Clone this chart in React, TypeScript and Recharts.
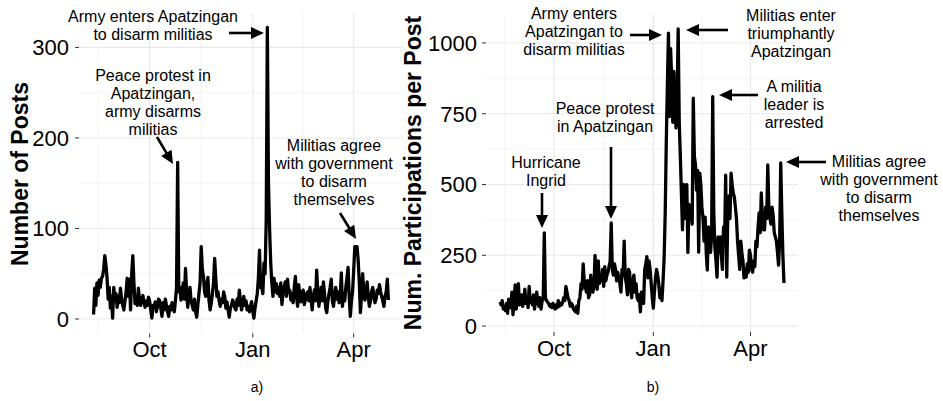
import React from 'react';
import { LineChart, Line, XAxis, YAxis, CartesianGrid } from 'recharts';

const FONT = '"Liberation Sans", Arial, Helvetica, sans-serif';

// day 0 = 12 Aug 2013, one value per day up to early May 2014
const monthTicks = [50, 142, 232];
const monthLabels = ['Oct', 'Jan', 'Apr'];
const minorDays = [4, 96, 187];

const postsPerDay = [
  5, 34, 15, 40, 26, 43, 35, 45, 47, 55,
  70, 60, 46, 22, 35, 12, 25, 1, 35, 20,
  28, 13, 25, 18, 34, 22, 15, 10, 20, 30,
  45, 25, 44, 10, 50, 70, 40, 17, 25, 15,
  34, 20, 15, 22, 26, 18, 13, 20, 15, 24,
  20, 10, 1, 15, 12, 19, 8, 14, 22, 20,
  12, 3, 18, 10, 22, 15, 8, 3, 14, 10,
  18, 12, 8, 20, 35, 173, 30, 35, 21, 28,
  40, 22, 56, 30, 13, 25, 35, 20, 15, 10,
  22, 8, 2, 15, 28, 40, 80, 55, 47, 30,
  25, 38, 46, 20, 10, 18, 28, 40, 67, 45,
  25, 30, 20, 14, 22, 18, 30, 25, 12, 19,
  10, 2, 12, 15, 21, 18, 12, 10, 22, 15,
  32, 20, 10, 18, 25, 15, 20, 10, 14, 8,
  15, 19, 8, 1, 12, 20, 28, 45, 76, 35,
  35, 28, 62, 50, 110, 322, 150, 100, 62, 40,
  25, 45, 30, 39, 28, 35, 25, 40, 16, 30,
  35, 41, 25, 44, 30, 32, 21, 28, 18, 35,
  47, 25, 14, 38, 25, 19, 30, 32, 16, 22,
  28, 30, 20, 35, 22, 10, 25, 32, 20, 54,
  30, 14, 25, 35, 20, 41, 28, 12, 7, 20,
  28, 35, 44, 20, 14, 25, 35, 22, 30, 18,
  25, 51, 14, 28, 20, 35, 45, 57, 25, 3,
  20, 30, 53, 80, 80, 80, 65, 41, 7, 25,
  50, 30, 21, 28, 41, 25, 14, 20, 30, 35,
  25, 18, 22, 32, 28, 38, 30, 25, 20, 14,
  25, 30, 44, 21,
];

const participationsPerPost = [
  85, 75, 90, 60, 70, 55, 80, 45, 95, 70,
  65, 120, 40, 90, 145, 60, 100, 150, 75, 85,
  110, 70, 90, 130, 80, 100, 65, 140, 85, 90,
  75, 110, 60, 95, 120, 85, 70, 100, 60, 90,
  95, 329, 100, 90, 85, 80, 70, 75, 65, 80,
  70, 60, 75, 65, 90, 70, 80, 75, 85, 100,
  90, 140, 120, 100, 90, 70, 80, 75, 60, 55,
  50, 70, 45, 90, 100, 150, 130, 220, 160, 140,
  120, 160, 100, 110, 180, 130, 120, 140, 250, 160,
  130, 230, 150, 180, 160, 200, 140, 210, 160, 180,
  190, 210, 230, 364, 200, 180, 220, 200, 160, 190,
  170, 150, 120, 200, 180, 300, 170, 150, 110, 200,
  190, 130, 100, 160, 180, 120, 150, 100, 90, 110,
  50, 120, 100, 80, 200, 220, 245, 170, 230, 200,
  150, 100, 63, 120, 170, 200, 180, 150, 100, 130,
  90, 160, 240, 400, 650, 850, 1035, 740, 980, 870,
  720, 900, 760, 700, 800, 1050, 720, 600, 470, 340,
  500, 380, 450, 500, 260, 430, 380, 420, 360, 805,
  600, 570, 480, 550, 261, 540, 500, 420, 380, 300,
  385, 260, 198, 350, 300, 260, 320, 810, 400, 280,
  233, 173, 315, 260, 315, 250, 200, 350, 300, 533,
  173, 400, 460, 380, 540, 500, 470, 456, 420, 380,
  300, 250, 200, 300, 260, 230, 170, 200, 173, 220,
  190, 268, 250, 200, 190, 230, 210, 300, 280, 350,
  400, 330, 470, 380, 340, 340, 420, 380, 569, 420,
  380, 360, 420, 390, 330, 315, 300, 260, 215, 300,
  576, 400, 250, 152,
];

const postsTicks = [0, 100, 200, 300];
const postsMinor = [50, 150, 250];
const partTicks = [0, 250, 500, 750, 1000];
const partMinor = [125, 375, 625, 875];

const postsData = postsPerDay.map((value, day) => ({ day, value }));
const partData = participationsPerPost.map((value, day) => ({ day, value }));

const tickStyle = { fill: '#000', fontSize: 22, fontFamily: FONT };
const monthFormatter = (v: number) => monthLabels[monthTicks.indexOf(v)] ?? '';

// annotation text blocks: centre x, first baseline, line step
const notes = [
  { x: 153, y: 22, lines: ['Army enters Apatzingan', 'to disarm militias'] },
  { x: 153, y: 81, lines: ['Peace protest in', 'Apatzingan,', 'army disarms', 'militias'] },
  { x: 334, y: 151, lines: ['Militias agree', 'with government', 'to disarm', 'themselves'] },
  { x: 574, y: 19, lines: ['Army enters', 'Apatzingan to', 'disarm militias'] },
  { x: 791, y: 21, lines: ['Militias enter', 'triumphantly', 'Apatzingan'] },
  { x: 794, y: 92, lines: ['A militia', 'leader is', 'arrested'] },
  { x: 546, y: 168, lines: ['Hurricane', 'Ingrid'] },
  { x: 605, y: 114, lines: ['Peace protest', 'in Apatzingan'] },
  { x: 879, y: 167, lines: ['Militias agree', 'with government', 'to disarm', 'themselves'] },
];

// arrows: tail -> tip
const arrows = [
  [229, 33, 264, 33],
  [157, 137, 173, 164],
  [340, 213, 356, 239],
  [630, 35, 662, 35],
  [728, 30, 686, 30],
  [758, 95, 719, 95],
  [542, 193, 542, 228],
  [611, 147, 611, 219],
  [826, 162, 786, 162],
];

function Arrow({ a }: { a: number[] }) {
  const [x1, y1, x2, y2] = a;
  const len = Math.hypot(x2 - x1, y2 - y1);
  const ux = (x2 - x1) / len;
  const uy = (y2 - y1) / len;
  const head = 13;
  const half = 6;
  const bx = x2 - ux * head;
  const by = y2 - uy * head;
  const pts = `${x2},${y2} ${bx - uy * half},${by + ux * half} ${bx + uy * half},${by - ux * half}`;
  return (
    <g>
      <line x1={x1} y1={y1} x2={bx + ux} y2={by + uy} stroke="#000" strokeWidth={2.6} />
      <polygon points={pts} fill="#000" />
    </g>
  );
}

function Overlay() {
  return (
    <svg width={943} height={401} style={{ position: 'absolute', left: 0, top: 0, pointerEvents: 'none' }}>
      <text
        transform="translate(28,174) rotate(-90)"
        textAnchor="middle"
        fontFamily={FONT}
        fontWeight="bold"
        fontSize={23}
        fill="#000"
      >
        Number of Posts
      </text>
      <text
        transform="translate(421,173) rotate(-90)"
        textAnchor="middle"
        fontFamily={FONT}
        fontWeight="bold"
        fontSize={23}
        fill="#000"
      >
        Num. Participations per Post
      </text>
      {notes.map((n, i) => (
        <text key={i} textAnchor="middle" fontFamily={FONT} fontSize={16} fill="#000">
          {n.lines.map((l, j) => (
            <tspan key={j} x={n.x} y={n.y + j * 18}>
              {l}
            </tspan>
          ))}
        </text>
      ))}
      {arrows.map((a, i) => (
        <Arrow key={i} a={a} />
      ))}
      <text x={257} y={392} textAnchor="middle" fontFamily={FONT} fontSize={14} fill="#000">
        a)
      </text>
      <text x={653} y={392} textAnchor="middle" fontFamily={FONT} fontSize={14} fill="#000">
        b)
      </text>
    </svg>
  );
}

function Panel({
  data,
  width,
  margin,
  yWidth,
  domain,
  ticks,
  minor,
  tickMargin,
}: {
  data: { day: number; value: number }[];
  width: number;
  margin: { top: number; right: number; bottom: number; left: number };
  yWidth: number;
  domain: number[];
  ticks: number[];
  minor: number[];
  tickMargin: number;
}) {
  return (
    <LineChart width={width} height={401} data={data} margin={margin}>
      <CartesianGrid stroke="#F1F1F1" strokeWidth={0.8} verticalValues={minorDays} horizontalValues={minor} />
      <CartesianGrid stroke="#E9E9E9" strokeWidth={1.1} verticalValues={monthTicks} horizontalValues={ticks} />
      <XAxis
        type="number"
        dataKey="day"
        domain={[-13, 276]}
        ticks={monthTicks}
        interval={0}
        tickFormatter={monthFormatter}
        axisLine={false}
        tickSize={4}
        tickMargin={4}
        tickLine={{ stroke: '#333' }}
        tick={tickStyle}
        height={30}
      />
      <YAxis
        type="number"
        domain={domain}
        ticks={ticks}
        interval={0}
        axisLine={false}
        tickSize={4}
        tickMargin={tickMargin}
        tickLine={{ stroke: '#333' }}
        tick={tickStyle}
        width={yWidth}
        allowDataOverflow
      />
      <Line
        type="linear"
        dataKey="value"
        stroke="#000"
        strokeWidth={3.3}
        strokeLinejoin="round"
        dot={false}
        isAnimationActive={false}
      />
    </LineChart>
  );
}

export default function App() {
  return (
    <div style={{ position: 'absolute', left: 0, top: 0, width: 943, height: 401, background: '#fff', overflow: 'hidden' }}>
      <div style={{ position: 'absolute', left: 0, top: 0 }}>
        <Panel
          data={postsData}
          width={470}
          margin={{ top: 13, right: 67, bottom: 37.5, left: 0 }}
          yWidth={79}
          domain={[-16, 338]}
          ticks={postsTicks}
          minor={postsMinor}
          tickMargin={6}
        />
      </div>
      <div style={{ position: 'absolute', left: 395, top: 0 }}>
        <Panel
          data={partData}
          width={548}
          margin={{ top: 14.4, right: 145, bottom: 39, left: 0 }}
          yWidth={91}
          domain={[-21, 1101]}
          ticks={partTicks}
          minor={partMinor}
          tickMargin={5}
        />
      </div>
      <Overlay />
    </div>
  );
}
